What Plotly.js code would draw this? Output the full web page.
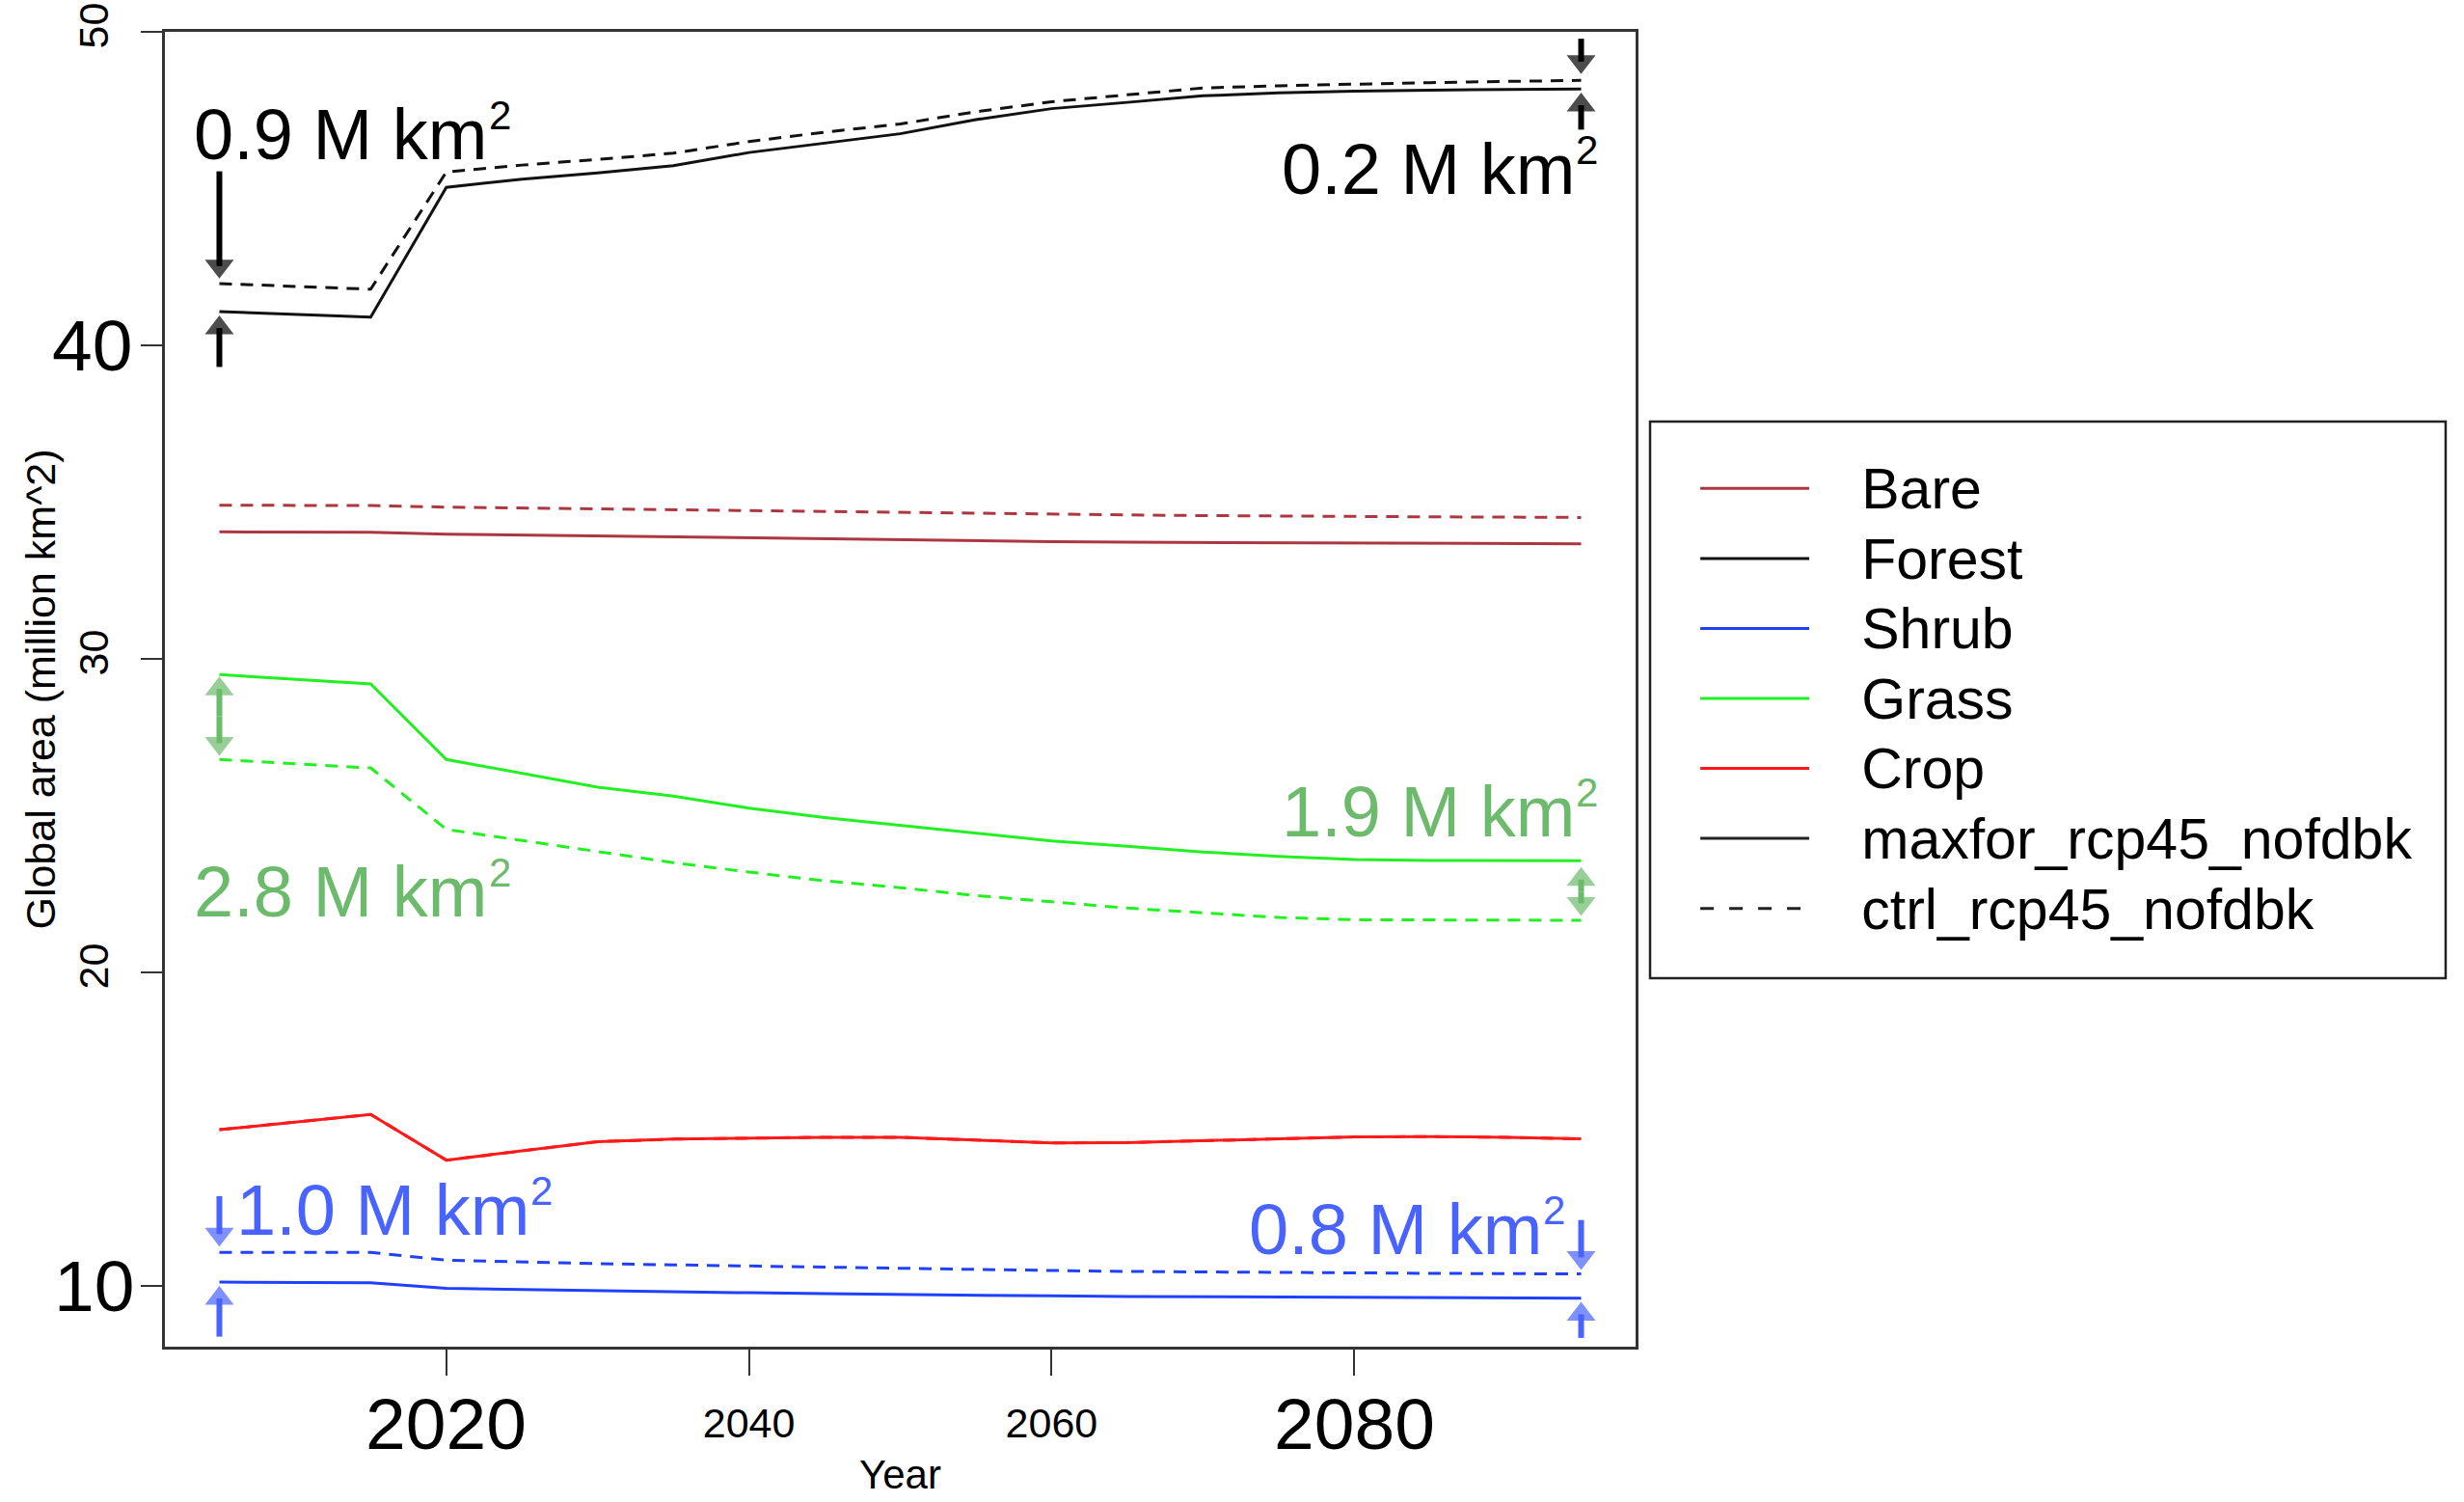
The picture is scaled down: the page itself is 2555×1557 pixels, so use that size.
<!DOCTYPE html>
<html>
<head>
<meta charset="utf-8">
<script src="https://cdn.plot.ly/plotly-3.0.1.min.js"></script>
<style>
html, body { margin: 0; padding: 0; background: #ffffff; }
#chart { width: 2555px; height: 1557px; }
</style>
</head>
<body>
<div id="chart"></div>
<script>
// ---------------- data ----------------
const years = [2005, 2015, 2020, 2025, 2030, 2035, 2040, 2045, 2050, 2055, 2060, 2065, 2070, 2075, 2080, 2085, 2090, 2095];

const bareMaxfor   = [34.05, 34.04, 33.98, 33.95, 33.91, 33.88, 33.84, 33.81, 33.78, 33.76, 33.74, 33.72, 33.71, 33.70, 33.69, 33.68, 33.67, 33.67];
const bareCtrl     = [34.90, 34.89, 34.84, 34.81, 34.78, 34.75, 34.72, 34.69, 34.66, 34.63, 34.61, 34.59, 34.57, 34.55, 34.54, 34.53, 34.52, 34.51];
const forestMaxfor = [41.08, 40.90, 45.04, 45.30, 45.50, 45.73, 46.15, 46.45, 46.75, 47.20, 47.55, 47.75, 47.96, 48.05, 48.11, 48.14, 48.16, 48.18];
const forestCtrl   = [41.97, 41.79, 45.53, 45.75, 45.93, 46.13, 46.50, 46.80, 47.06, 47.45, 47.77, 48.00, 48.21, 48.28, 48.34, 48.38, 48.42, 48.45];
const shrubMaxfor  = [10.12, 10.10, 9.92, 9.88, 9.84, 9.81, 9.78, 9.75, 9.72, 9.70, 9.68, 9.66, 9.65, 9.63, 9.62, 9.61, 9.61, 9.61];
const shrubCtrl    = [11.07, 11.07, 10.82, 10.76, 10.71, 10.67, 10.63, 10.59, 10.55, 10.52, 10.49, 10.46, 10.44, 10.42, 10.41, 10.40, 10.39, 10.38];
const grassMaxfor  = [29.50, 29.20, 26.79, 26.35, 25.91, 25.62, 25.24, 24.94, 24.69, 24.44, 24.19, 24.02, 23.84, 23.70, 23.60, 23.57, 23.56, 23.56];
const grassCtrl    = [26.79, 26.52, 24.56, 24.20, 23.85, 23.50, 23.20, 22.92, 22.70, 22.45, 22.25, 22.05, 21.90, 21.75, 21.68, 21.67, 21.66, 21.66];
const cropMaxfor   = [14.98, 15.47, 14.01, 14.30, 14.60, 14.68, 14.72, 14.74, 14.74, 14.65, 14.56, 14.57, 14.63, 14.70, 14.75, 14.76, 14.74, 14.69];
const cropCtrl     = [14.98, 15.47, 14.01, 14.30, 14.60, 14.68, 14.72, 14.74, 14.74, 14.65, 14.56, 14.57, 14.63, 14.70, 14.75, 14.76, 14.74, 14.69];

const classNames    = ['Bare', 'Forest', 'Shrub', 'Grass', 'Crop'];
const scenarioNames = ['maxfor_rcp45_nofdbk', 'ctrl_rcp45_nofdbk'];

const yTickVals   = [20, 30, 50];          // small, rotated labels
const yTickText   = ['20', '30', '50'];
const yBigLabels  = [40, 10];              // large horizontal labels
const xTickVals   = [2040, 2060];          // small labels
const xTickText   = ['2040', '2060'];
const xBigLabels  = [2020, 2080];          // large labels

const diffLabels   = ['0.9 M km', '0.2 M km', '2.8 M km', '1.9 M km', '1.0 M km', '0.8 M km'];
const diffLabelSup = '2';

// ---------------- styles ----------------
const FONT = 'Liberation Sans, Arial, Helvetica, sans-serif';
const colors = { Bare: '#ab3840', Forest: '#111111', Shrub: '#2040ff', Grass: '#22f022', Crop: '#ff1a1a' };
const annGreen = '#6cbb6c', annBlue = '#4863ff', annBlack = '#000000';
const DASH = '13px,9px';
const LW = 3;
const LABEL_SIZE = 74, SUP_SIZE = 42, SUP_RAISE = 20;

const maxforSeries = [bareMaxfor, forestMaxfor, shrubMaxfor, grassMaxfor, cropMaxfor];
const ctrlSeries   = [bareCtrl, forestCtrl, shrubCtrl, grassCtrl, cropCtrl];

function legendName(t) {
  return '<span style="font-size:59px">\u00a0\u00a0\u00a0' + t + '</span>';
}

const traces = [];
// ctrl (dashed) first so that the solid lines sit above them
classNames.forEach((c, i) => {
  traces.push({ x: years, y: ctrlSeries[i], type: 'scatter', mode: 'lines', name: c + ' ctrl',
    showlegend: false, hoverinfo: 'skip', line: { color: colors[c], width: LW, dash: DASH } });
});
classNames.forEach((c, i) => {
  traces.push({ x: years, y: maxforSeries[i], type: 'scatter', mode: 'lines',
    name: legendName(c), showlegend: true, hoverinfo: 'skip', line: { color: colors[c], width: LW } });
});
// legend-only entries for the two scenarios
traces.push({ x: [null], y: [null], type: 'scatter', mode: 'lines', name: legendName(scenarioNames[0]),
  showlegend: true, line: { color: '#222222', width: LW } });
traces.push({ x: [null], y: [null], type: 'scatter', mode: 'lines', name: legendName(scenarioNames[1]),
  showlegend: true, line: { color: '#222222', width: LW, dash: '14px,16px' } });

// ---------------- difference arrows (head at the tip, drawn as scatter) ----------------
const last = years.length - 1;
const xs = years[0], xe = years[last];
const HEAD = 26;
function arrowTrace(xv, tail, tip, color) {
  return { x: [xv, xv], y: [tail, tip], type: 'scatter', mode: 'lines+markers', showlegend: false, hoverinfo: 'skip',
    cliponaxis: false,
    line: { color: color, width: 6, backoff: 13 },
    marker: { symbol: 'triangle-up', size: [0, HEAD], angleref: 'previous', standoff: HEAD / 2, color: color, line: { width: 0 } } };
}
function doubleArrow(xv, low, high, color) {
  const mid = (low + high) / 2;
  return [arrowTrace(xv, mid, high, color), arrowTrace(xv, mid, low, color)];
}
traces.push(
  // forest
  arrowTrace(xs, 45.55, forestCtrl[0] + 0.16, annBlack),
  arrowTrace(xs, 39.31, forestMaxfor[0] - 0.13, annBlack),
  arrowTrace(xe, 49.78, forestCtrl[last] + 0.20, annBlack),
  arrowTrace(xe, 46.88, forestMaxfor[last] - 0.12, annBlack),
  // grass
  ...doubleArrow(xs, grassCtrl[0] + 0.12, grassMaxfor[0] - 0.06, annGreen),
  ...doubleArrow(xe, grassCtrl[last] + 0.14, grassMaxfor[last] - 0.20, annGreen),
  // shrub
  arrowTrace(xs, 12.86, shrubCtrl[0] + 0.18, annBlue),
  arrowTrace(xs, 8.38, shrubMaxfor[0] - 0.12, annBlue),
  arrowTrace(xe, 12.10, shrubCtrl[last] + 0.13, annBlue),
  arrowTrace(xe, 8.34, shrubMaxfor[last] - 0.12, annBlue)
);

// ---------------- text measurement for the superscripts ----------------
const measureCtx = document.createElement('canvas').getContext('2d');
function textWidth(t, size) {
  measureCtx.font = size + 'px "Liberation Sans", Arial, Helvetica, sans-serif';
  return measureCtx.measureText(t).width;
}

// label "x.x M km" + superscript "2"
function diffLabel(text, x, y, anchor, color) {
  const base = { x: x, y: y, xref: 'x', yref: 'y', text: text, showarrow: false, xanchor: anchor, yanchor: 'middle',
    font: { family: FONT, size: LABEL_SIZE, color: color } };
  const sup = { x: x, y: y, xref: 'x', yref: 'y', text: diffLabelSup, showarrow: false, xanchor: anchor, yanchor: 'middle',
    yshift: SUP_RAISE, font: { family: FONT, size: SUP_SIZE, color: color } };
  if (anchor === 'left') {
    sup.xshift = textWidth(text, LABEL_SIZE) + 1;
  } else {
    base.xshift = -(textWidth(diffLabelSup, SUP_SIZE) + 1);
  }
  return [base, sup];
}
function bigTick(text, xref, x, yref, y) {
  return { xref: xref, x: x, yref: yref, y: y, text: String(text), showarrow: false,
    xanchor: 'center', yanchor: 'middle', font: { family: FONT, size: 75, color: '#000' } };
}

const annotations = [
  ...diffLabel(diffLabels[0], 2003.2, 46.73, 'left', annBlack),
  ...diffLabel(diffLabels[1], 2096.25, 45.60, 'right', annBlack),
  ...diffLabel(diffLabels[2], 2003.2, 22.56, 'left', annGreen),
  ...diffLabel(diffLabels[3], 2096.25, 25.11, 'right', annGreen),
  ...diffLabel(diffLabels[4], 2006.0, 12.42, 'left', annBlue),
  ...diffLabel(diffLabels[5], 2094.1, 11.80, 'right', annBlue),
  bigTick(yBigLabels[0], 'paper', -0.0495, 'y', yBigLabels[0]),
  bigTick(yBigLabels[1], 'paper', -0.0480, 'y', yBigLabels[1]),
  bigTick(xBigLabels[0], 'x', xBigLabels[0], 'paper', -0.0587),
  bigTick(xBigLabels[1], 'x', xBigLabels[1], 'paper', -0.0587)
];

const layout = {
  width: 2555, height: 1557,
  margin: { l: 171, r: 859, t: 33, b: 161, pad: 0 },
  paper_bgcolor: '#ffffff', plot_bgcolor: '#ffffff',
  font: { family: FONT, color: '#000000', size: 43 },
  showlegend: true,
  xaxis: {
    range: [2001.4, 2098.6], showgrid: false, zeroline: false,
    showline: true, mirror: true, linecolor: '#333333', linewidth: 2.5,
    ticks: 'outside', ticklen: 27, tickwidth: 2, tickcolor: '#333333',
    tickmode: 'array', tickvals: xTickVals, ticktext: xTickText, ticklabelstandoff: 13,
    minor: { tickmode: 'array', tickvals: xBigLabels, ticks: 'outside', ticklen: 27, tickwidth: 2, tickcolor: '#333333', showgrid: false },
    tickfont: { family: FONT, size: 43, color: '#000' },
    title: { text: 'Year', font: { family: FONT, size: 42, color: '#000' }, standoff: 16 },
    automargin: false
  },
  yaxis: {
    range: [8.06, 50.0], showgrid: false, zeroline: false,
    showline: true, mirror: true, linecolor: '#333333', linewidth: 2.5,
    ticks: 'outside', ticklen: 22, tickwidth: 2, tickcolor: '#333333',
    tickmode: 'array', tickvals: yTickVals, ticktext: yTickText, tickangle: -90, ticklabelstandoff: 17,
    minor: { tickmode: 'array', tickvals: yBigLabels, ticks: 'outside', ticklen: 22, tickwidth: 2, tickcolor: '#333333', showgrid: false },
    tickfont: { family: FONT, size: 43, color: '#000' },
    title: { text: 'Global area (million km^2)', font: { family: FONT, size: 43, color: '#000' }, standoff: 2 },
    automargin: false
  },
  legend: {
    x: 1.0407, xanchor: 'left', y: 0.6830, yanchor: 'top',
    bgcolor: 'rgba(0,0,0,0)', borderwidth: 0,
    font: { family: FONT, size: 53.5, color: '#000' },
    itemwidth: 113, tracegroupgap: 0, traceorder: 'normal'
  },
  shapes: [
    { type: 'rect', xref: 'paper', yref: 'paper', x0: 1.00984, x1: 1.5508, y0: 0.28026, y1: 0.7036,
      line: { color: '#222222', width: 2.5 }, fillcolor: 'rgba(0,0,0,0)' }
  ],
  annotations: annotations
};

Plotly.newPlot('chart', traces, layout, { displayModeBar: false, responsive: false });
</script>
</body>
</html>
